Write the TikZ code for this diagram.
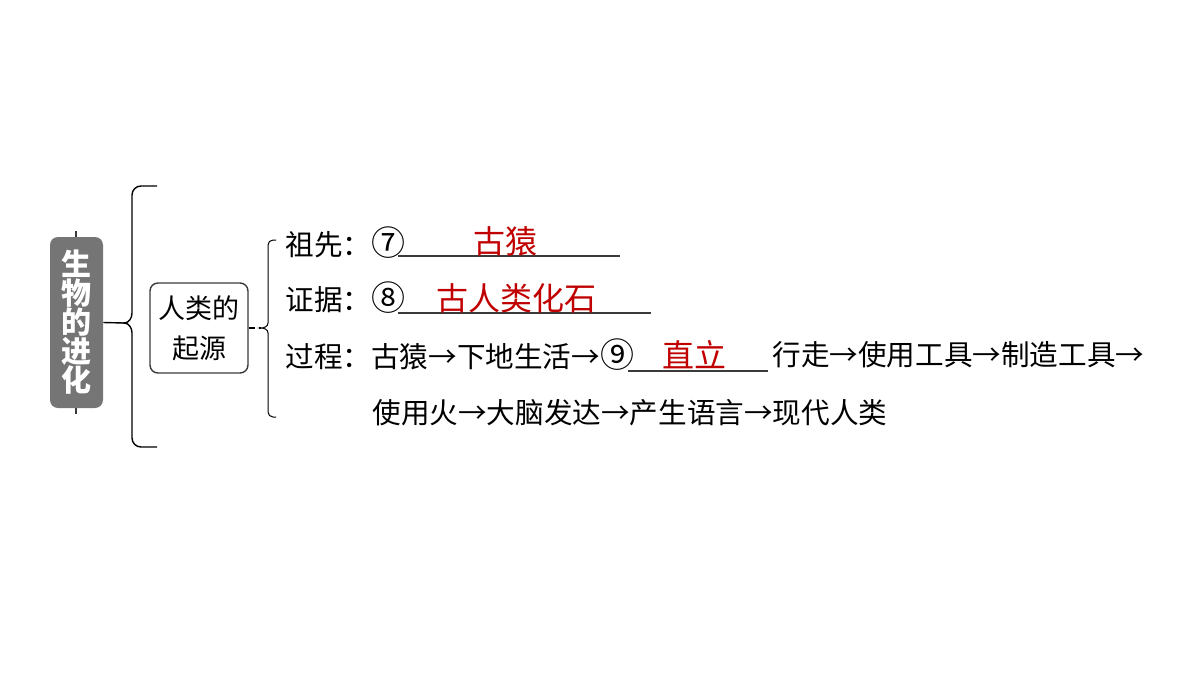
\documentclass[tikz,border=0pt]{standalone}
\usepackage{fontspec}
\setmainfont{Noto Sans CJK SC}
\usepackage{xcolor}
\usepackage{tikz}
\definecolor{boxgray}{HTML}{757575}
\definecolor{ansred}{HTML}{C00000}
\definecolor{linegray}{HTML}{3A3A3A}
\newcommand{\circnum}[1]{{\fontsize{17}{17}\selectfont #1}}
\tikzset{
  rowtext/.style={anchor=west,inner sep=0pt,font=\fontsize{14.3}{16}\selectfont},
  answer/.style={inner sep=0pt,text=ansred,font=\fontsize{16}{18}\selectfont},
  blank/.style={draw=linegray,line width=0.7pt},
  bracepath/.style={draw=black,line width=0.7pt}
}
\begin{document}
\begin{tikzpicture}[x=0.5pt,y=-0.5pt]
    \useasboundingbox (0,0) rectangle (1200,675);
    % Root box
    \draw[linegray,line width=0.6pt] (76,231) -- (76,414);
    \node[fill=boxgray,rounded corners=4pt,minimum width=26.5pt,minimum height=85.5pt,
          inner sep=0pt,text=white,align=center,
          font=\fontsize{15}{14.5}\selectfont\bfseries] (root) at (76.5,322.5)
          {生\\物\\的\\进\\化};
    % Big brace
    \coordinate (tipA) at (124,323);
    \draw[bracepath] (root.east) -- (tipA);
    \draw[bracepath] (157,186) -- (141,186) to[out=180,in=90] (132,195) -- (132,313)
          to[out=-90,in=0] (tipA) to[out=0,in=90] (132,333) -- (132,438)
          to[out=-90,in=180] (141,447) -- (157,447);
    % Sub box
    \node[draw=linegray,line width=0.7pt,rounded corners=4pt,minimum width=49pt,
          minimum height=45pt,align=center,
          font=\fontsize{13.5}{20}\selectfont] (origin) at (199,328) {人类的\\起源};
    % Small brace
    \coordinate (tipB) at (261,328);
    \draw[bracepath,dashed,dash pattern=on 3pt off 2pt] (origin.east) -- (tipB);
    \draw[bracepath,line width=0.5pt] (276,240) -- (273,240) to[out=180,in=90] (268,245) -- (268,323)
          to[out=-90,in=0] (tipB) to[out=0,in=90] (268,333) -- (268,412)
          to[out=-90,in=180] (273,417) -- (276,417);
    % Rows
    \node[rowtext] (anc) at (285,243) {祖先：\circnum{⑦}};
    \draw[blank] (398,256) -- (620,256);
    \node[answer] (ancA) at (505,241) {古猿};

    \node[rowtext] (evid) at (285,298) {证据：\circnum{⑧}};
    \draw[blank] (398,313) -- (651,313);
    \node[answer] (evidA) at (516,298) {古人类化石};

    \node[rowtext] (proc) at (285,355) {过程：古猿→下地生活→\circnum{⑨}};
    \draw[blank] (628,371) -- (768,371);
    \node[answer] (procA) at (694,355) {直立};
    \node[rowtext] (procB) at (772,355) {行走→使用工具→制造工具→};
    \node[rowtext] (procC) at (372,413) {使用火→大脑发达→产生语言→现代人类};
\end{tikzpicture}
\end{document}
